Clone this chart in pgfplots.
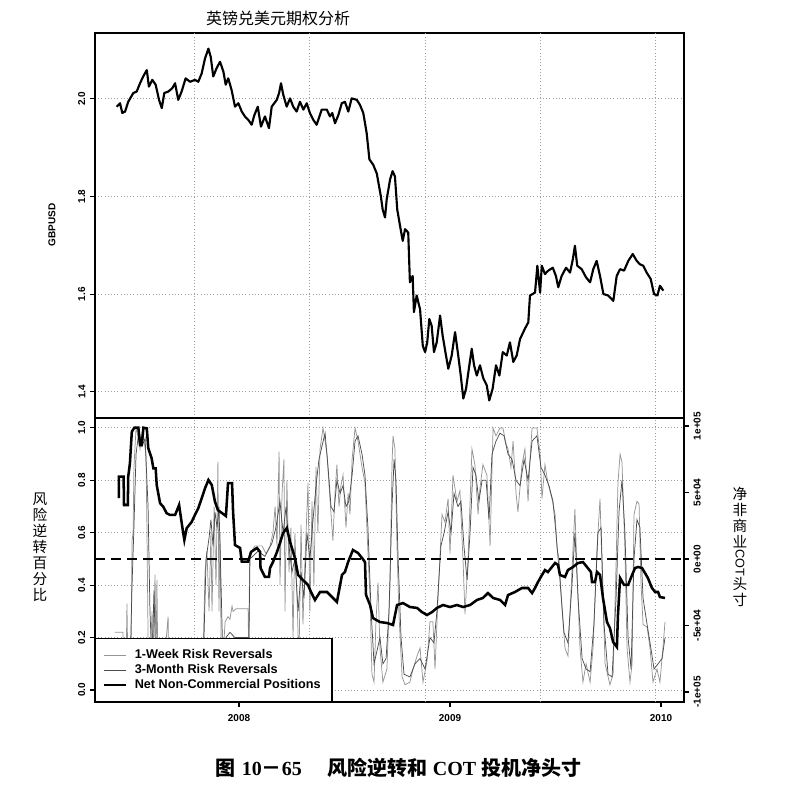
\documentclass[border=0pt]{standalone}
\usepackage{graphicx}
\usepackage{fontspec}
\setmainfont{Liberation Sans}
\newfontfamily\cjk{Noto Sans CJK SC}
\newfontfamily\serifb{Liberation Serif}
\usepackage{pgfplots}
\pgfplotsset{compat=1.18}
\definecolor{wk}{rgb}{0.58,0.58,0.58}
\definecolor{mo}{rgb}{0.30,0.30,0.30}
\definecolor{gridc}{rgb}{0.62,0.62,0.62}
\pgfplotsset{
  common/.style={
    anchor=south west, scale only axis, width=441.75pt,
    xmin=2007.3175, xmax=2010.109,
    axis line style={line width=1.1pt},
    tick align=outside, major tick length=3.75pt,
    tick style={black, line width=0.8pt},
    grid style={dotted, gridc, line width=0.7pt},
    /pgf/number format/assume math mode=true,
    ticklabel style={font=\bfseries\fontsize{7.5}{9}\selectfont},
  },
  vgrid/.style={
    extra x ticks={2007.791,2008.336,2008.882,2009.427,2009.972},
    extra x tick labels={},
    extra x tick style={xmajorgrids=true, major tick length=0pt},
  },
}
\begin{document}
\begin{tikzpicture}
\path[use as bounding box] (0pt,0pt) rectangle (605.25pt,591pt);
% ---------------- top panel ----------------
\begin{axis}[common, vgrid,
  at={(71.25pt,277.5pt)}, height=288.75pt,
  ymin=1.346, ymax=2.135,
  xtick=\empty,
  ytick={1.4,1.6,1.8,2.0}, ymajorgrids, ytick pos=left,
  yticklabel style={rotate=90, anchor=south,
    /pgf/number format/fixed, /pgf/number format/fixed zerofill,
    /pgf/number format/precision=1},
]
\addplot[black, line width=1.6pt, line join=round] coordinates {
(2007.420,1.984)(2007.436,1.991)(2007.447,1.971)(2007.460,1.974)(2007.475,1.994)
(2007.499,2.012)(2007.515,2.015)(2007.531,2.032)(2007.546,2.046)(2007.563,2.059)
(2007.573,2.025)(2007.589,2.039)(2007.605,2.029)(2007.621,1.998)(2007.634,1.981)
(2007.646,2.012)(2007.665,2.015)(2007.684,2.022)(2007.697,2.032)(2007.712,1.998)
(2007.728,2.015)(2007.747,2.042)(2007.768,2.035)(2007.791,2.039)(2007.807,2.035)
(2007.823,2.052)(2007.839,2.083)(2007.855,2.103)(2007.866,2.086)(2007.878,2.046)
(2007.894,2.063)(2007.910,2.076)(2007.926,2.056)(2007.937,2.029)(2007.949,2.042)
(2007.965,2.018)(2007.981,1.984)(2007.997,1.991)(2008.013,1.974)(2008.028,1.964)
(2008.044,1.957)(2008.060,1.947)(2008.073,1.967)(2008.089,1.984)(2008.104,1.943)
(2008.123,1.964)(2008.142,1.940)(2008.155,1.984)(2008.179,1.998)(2008.190,2.012)
(2008.199,2.032)(2008.210,2.008)(2008.226,1.984)(2008.242,2.001)(2008.257,1.984)
(2008.273,1.974)(2008.289,1.994)(2008.305,1.978)(2008.321,1.991)(2008.336,1.971)
(2008.352,1.957)(2008.368,1.947)(2008.392,1.978)(2008.416,1.978)(2008.431,1.964)
(2008.442,1.971)(2008.455,1.950)(2008.471,1.967)(2008.487,1.991)(2008.502,1.994)
(2008.518,1.974)(2008.534,2.001)(2008.558,1.998)(2008.573,1.988)(2008.589,1.971)
(2008.605,1.930)(2008.618,1.876)(2008.636,1.865)(2008.653,1.847)(2008.672,1.801)
(2008.681,1.773)(2008.692,1.757)(2008.700,1.794)(2008.716,1.835)(2008.728,1.852)
(2008.739,1.841)(2008.750,1.773)(2008.766,1.733)(2008.776,1.709)(2008.787,1.733)
(2008.802,1.726)(2008.810,1.624)(2008.823,1.637)(2008.829,1.563)(2008.842,1.597)
(2008.858,1.569)(2008.871,1.494)(2008.882,1.481)(2008.892,1.501)(2008.902,1.549)
(2008.913,1.535)(2008.924,1.481)(2008.937,1.501)(2008.953,1.556)(2008.965,1.515)
(2008.981,1.474)(2008.992,1.447)(2009.008,1.474)(2009.024,1.522)(2009.039,1.474)
(2009.051,1.433)(2009.063,1.386)(2009.076,1.406)(2009.087,1.440)(2009.103,1.488)
(2009.114,1.454)(2009.127,1.433)(2009.142,1.454)(2009.158,1.427)(2009.174,1.413)
(2009.186,1.382)(2009.202,1.406)(2009.218,1.454)(2009.234,1.433)(2009.250,1.481)
(2009.269,1.474)(2009.284,1.501)(2009.300,1.461)(2009.316,1.474)(2009.332,1.508)
(2009.355,1.529)(2009.371,1.542)(2009.379,1.597)(2009.403,1.603)(2009.414,1.658)
(2009.427,1.603)(2009.435,1.658)(2009.450,1.641)(2009.466,1.648)(2009.487,1.654)
(2009.502,1.637)(2009.513,1.614)(2009.529,1.637)(2009.550,1.654)(2009.569,1.644)
(2009.582,1.671)(2009.592,1.699)(2009.603,1.658)(2009.624,1.651)(2009.645,1.634)
(2009.664,1.624)(2009.679,1.651)(2009.695,1.668)(2009.711,1.637)(2009.727,1.600)
(2009.750,1.597)(2009.774,1.586)(2009.790,1.637)(2009.806,1.651)(2009.825,1.648)
(2009.845,1.668)(2009.866,1.682)(2009.885,1.668)(2009.900,1.661)(2009.916,1.658)
(2009.932,1.644)(2009.951,1.631)(2009.967,1.600)(2009.983,1.597)(2009.995,1.617)
(2010.011,1.607)
};
\end{axis}
% ---------------- bottom panel, left axis ----------------
\begin{axis}[common, vgrid,
  at={(71.25pt,64.5pt)}, height=213pt,
  ymin=-0.0458, ymax=1.038,
  xtick={2008,2009,2010}, xticklabels={2008,2009,2010}, xtick pos=bottom,
  xticklabel style={yshift=-2pt},
  ytick={0,0.2,0.4,0.6,0.8,1.0}, ymajorgrids, ytick pos=left,
  yticklabel style={rotate=90, anchor=south,
    /pgf/number format/fixed, /pgf/number format/fixed zerofill,
    /pgf/number format/precision=1},
]
\addplot[wk, line width=0.55pt] coordinates {
(2007.412,0.22)(2007.450,0.22)(2007.455,0.10)(2007.464,0.05)(2007.469,0.33)(2007.474,0.05)
(2007.488,0.10)(2007.493,0.57)(2007.498,0.60)(2007.502,0.85)(2007.512,1.00)(2007.521,0.97)
(2007.531,0.92)(2007.540,0.98)(2007.550,0.95)(2007.559,0.90)(2007.564,0.60)(2007.569,0.20)
(2007.578,0.10)(2007.588,0.30)(2007.592,0.10)(2007.602,0.44)(2007.607,0.10)(2007.611,0.42)
(2007.616,0.05)(2007.626,0.10)(2007.640,0.05)(2007.664,0.28)(2007.668,0.00)(2007.720,0.02)
(2007.791,0.05)(2007.815,0.04)(2007.829,0.10)(2007.839,0.45)(2007.848,0.53)(2007.858,0.30)
(2007.867,0.60)(2007.872,0.30)(2007.882,0.70)(2007.891,0.40)(2007.900,0.87)(2007.905,0.30)
(2007.910,0.60)(2007.915,0.20)(2007.919,0.05)(2007.934,0.26)(2007.948,0.28)(2007.957,0.27)
(2007.967,0.32)(2007.972,0.30)(2007.986,0.31)(2008.043,0.31)(2008.047,0.10)(2008.050,0.52)
(2008.076,0.55)(2008.109,0.55)(2008.128,0.52)(2008.147,0.55)(2008.161,0.60)(2008.171,0.70)
(2008.180,0.55)(2008.190,0.91)(2008.194,0.40)(2008.204,0.75)(2008.213,0.88)(2008.218,0.30)
(2008.227,0.80)(2008.237,0.45)(2008.246,0.62)(2008.256,0.20)(2008.265,0.60)(2008.275,0.35)
(2008.284,0.10)(2008.294,0.63)(2008.303,0.25)(2008.313,0.50)(2008.327,0.79)(2008.336,0.30)
(2008.346,0.72)(2008.355,0.40)(2008.365,0.85)(2008.374,0.60)(2008.384,0.92)(2008.393,0.97)
(2008.398,1.00)(2008.408,0.95)(2008.417,0.90)(2008.431,0.73)(2008.445,0.57)(2008.455,0.75)
(2008.464,0.86)(2008.474,0.70)(2008.483,0.78)(2008.493,0.82)(2008.507,0.62)(2008.517,0.75)
(2008.526,0.67)(2008.536,0.88)(2008.550,1.00)(2008.564,0.95)(2008.583,0.85)(2008.597,0.79)
(2008.607,0.60)(2008.621,0.35)(2008.630,0.06)(2008.640,0.03)(2008.649,0.26)(2008.659,0.41)
(2008.668,0.16)(2008.682,0.03)(2008.701,0.08)(2008.716,0.41)(2008.725,0.86)(2008.730,0.97)
(2008.739,0.92)(2008.749,0.54)(2008.758,0.29)(2008.773,0.05)(2008.787,0.02)(2008.810,0.03)
(2008.825,0.08)(2008.844,0.13)(2008.858,0.16)(2008.872,0.03)(2008.891,0.11)(2008.905,0.26)
(2008.919,0.26)(2008.929,0.08)(2008.943,0.35)(2008.962,0.67)(2008.976,0.64)(2008.991,0.73)
(2009.000,0.52)(2009.014,0.82)(2009.033,0.72)(2009.047,0.76)(2009.062,0.49)(2009.071,0.29)
(2009.085,0.49)(2009.104,0.92)(2009.118,0.86)(2009.133,0.67)(2009.142,0.77)(2009.156,0.86)
(2009.175,0.82)(2009.190,0.55)(2009.204,1.00)(2009.218,0.97)(2009.237,1.00)(2009.251,1.00)
(2009.265,0.94)(2009.275,0.92)(2009.289,0.85)(2009.299,0.95)(2009.313,0.75)(2009.322,0.68)
(2009.341,0.86)(2009.355,0.92)(2009.370,0.72)(2009.379,0.88)(2009.389,1.00)(2009.412,1.00)
(2009.427,0.90)(2009.436,0.73)(2009.450,0.86)(2009.464,0.79)(2009.483,0.73)(2009.498,0.67)
(2009.507,0.54)(2009.517,0.50)(2009.531,0.31)(2009.545,0.16)(2009.559,0.13)(2009.569,0.30)
(2009.583,0.54)(2009.592,0.69)(2009.602,0.45)(2009.616,0.16)(2009.630,0.03)(2009.645,0.10)
(2009.664,0.03)(2009.678,0.16)(2009.697,0.54)(2009.711,0.73)(2009.720,0.48)(2009.735,0.10)
(2009.758,0.02)(2009.773,0.06)(2009.787,0.48)(2009.796,0.79)(2009.806,0.90)(2009.815,0.87)
(2009.829,0.54)(2009.839,0.16)(2009.853,0.03)(2009.863,0.10)(2009.872,0.67)(2009.886,0.72)
(2009.896,0.71)(2009.905,0.41)(2009.915,0.25)(2009.934,0.24)(2009.948,0.16)(2009.962,0.03)
(2009.981,0.08)(2009.995,0.03)(2010.009,0.16)(2010.019,0.26)
};
\addplot[mo, line width=0.55pt] coordinates {
(2007.412,0.00)(2007.483,0.05)(2007.493,0.40)(2007.502,0.62)(2007.512,0.90)(2007.526,0.99)
(2007.540,0.93)(2007.555,0.96)(2007.569,0.70)(2007.578,0.30)(2007.588,0.10)(2007.597,0.38)
(2007.607,0.05)(2007.626,0.00)(2007.815,0.00)(2007.834,0.20)(2007.844,0.50)(2007.858,0.58)
(2007.867,0.65)(2007.877,0.55)(2007.886,0.68)(2007.896,0.62)(2007.905,0.70)(2007.915,0.40)
(2007.924,0.10)(2007.938,0.20)(2007.957,0.22)(2007.981,0.20)(2008.047,0.20)(2008.052,0.50)
(2008.090,0.53)(2008.123,0.51)(2008.156,0.56)(2008.175,0.62)(2008.194,0.72)(2008.209,0.60)
(2008.223,0.70)(2008.237,0.55)(2008.251,0.45)(2008.265,0.50)(2008.280,0.30)(2008.294,0.45)
(2008.308,0.35)(2008.322,0.60)(2008.336,0.50)(2008.351,0.65)(2008.365,0.78)(2008.379,0.88)
(2008.393,0.93)(2008.408,0.98)(2008.422,0.85)(2008.436,0.70)(2008.450,0.68)(2008.464,0.80)
(2008.479,0.75)(2008.493,0.78)(2008.507,0.70)(2008.521,0.72)(2008.536,0.82)(2008.550,0.95)
(2008.564,0.97)(2008.583,0.90)(2008.597,0.82)(2008.611,0.62)(2008.626,0.30)(2008.640,0.10)
(2008.654,0.15)(2008.668,0.20)(2008.682,0.10)(2008.697,0.12)(2008.711,0.30)(2008.725,0.70)
(2008.735,0.88)(2008.744,0.80)(2008.754,0.50)(2008.768,0.20)(2008.782,0.06)(2008.810,0.05)
(2008.834,0.10)(2008.858,0.12)(2008.882,0.08)(2008.905,0.20)(2008.924,0.18)(2008.938,0.30)
(2008.957,0.55)(2008.972,0.60)(2008.991,0.68)(2009.005,0.60)(2009.019,0.75)(2009.038,0.70)
(2009.052,0.72)(2009.066,0.55)(2009.081,0.42)(2009.095,0.60)(2009.109,0.85)(2009.123,0.82)
(2009.137,0.72)(2009.152,0.80)(2009.171,0.80)(2009.185,0.65)(2009.199,0.90)(2009.218,0.95)
(2009.237,0.98)(2009.256,0.97)(2009.275,0.90)(2009.294,0.88)(2009.313,0.80)(2009.332,0.78)
(2009.351,0.88)(2009.370,0.80)(2009.389,0.95)(2009.412,0.97)(2009.431,0.85)(2009.450,0.82)
(2009.469,0.78)(2009.488,0.72)(2009.502,0.60)(2009.521,0.42)(2009.540,0.22)(2009.559,0.18)
(2009.578,0.40)(2009.592,0.60)(2009.607,0.35)(2009.626,0.12)(2009.645,0.08)(2009.664,0.07)
(2009.682,0.25)(2009.701,0.60)(2009.716,0.62)(2009.730,0.25)(2009.749,0.06)(2009.768,0.05)
(2009.787,0.35)(2009.801,0.68)(2009.815,0.80)(2009.829,0.60)(2009.844,0.20)(2009.858,0.08)
(2009.872,0.50)(2009.886,0.65)(2009.900,0.62)(2009.915,0.35)(2009.934,0.25)(2009.948,0.18)
(2009.967,0.08)(2009.986,0.10)(2010.005,0.12)(2010.019,0.20)
};
\end{axis}
% ---------------- bottom panel, right axis ----------------
\begin{axis}[common,
  at={(71.25pt,64.5pt)}, height=213pt,
  ymin=-107500, ymax=106000,
  axis y line*=right, axis x line=none,
  scaled y ticks=false,
  ytick={-100000,-50000,0,50000,100000},
  yticklabels={-1e+05,-5e+04,0e+00,5e+04,1e+05},
  yticklabel style={rotate=90, anchor=north},
  legend cell align=left,
  legend image code/.code={\draw[#1] (0pt,0pt) -- (17pt,0pt);},
  legend style={at={(0,0)}, anchor=south west, draw=black, line width=0.9pt,
    fill=white, font=\bfseries\fontsize{9.5}{10.5}\selectfont,
    inner xsep=5pt, inner ysep=6.5pt, column sep=2pt, row sep=0pt,
    nodes={inner xsep=3.5pt, inner ysep=1.4pt, text height=7pt, text depth=1.5pt}},
]
\addlegendimage{wk, line width=0.55pt}
\addlegendentry{1-Week Risk Reversals}
\addlegendimage{mo, line width=0.55pt}
\addlegendentry{3-Month Risk Reversals}
\addplot[black, line width=1.6pt, dash pattern=on 7.5pt off 4.5pt, forget plot]
  coordinates {(2007.3175,0)(2010.109,0)};
\addplot[black, line width=1.9pt] coordinates {
(2007.425,46800)(2007.431,46800)(2007.431,61900)(2007.453,61900)(2007.455,40600)(2007.473,40600)
(2007.475,61900)(2007.483,72000)(2007.492,95700)(2007.504,98700)(2007.523,98700)(2007.531,85700)
(2007.539,85700)(2007.547,98700)(2007.563,98200)(2007.570,83200)(2007.586,75700)(2007.594,68200)
(2007.605,68200)(2007.610,55600)(2007.626,41900)(2007.641,39300)(2007.657,34400)(2007.673,33100)
(2007.697,33100)(2007.716,40600)(2007.731,24300)(2007.741,14300)(2007.752,23100)(2007.776,28000)
(2007.791,33100)(2007.807,38100)(2007.823,45600)(2007.839,53200)(2007.855,59400)(2007.871,55600)
(2007.886,43100)(2007.900,36800)(2007.938,32300)(2007.948,57100)(2007.967,57100)(2007.972,35300)
(2007.981,10500)(2008.005,8300)(2008.013,-2000)(2008.043,-2000)(2008.057,5300)(2008.085,8300)
(2008.100,5300)(2008.102,-6800)(2008.123,-13500)(2008.142,-13500)(2008.147,-6800)(2008.161,-2300)
(2008.180,5300)(2008.194,12000)(2008.209,19500)(2008.227,23300)(2008.242,12800)(2008.265,800)
(2008.280,-12000)(2008.303,-15800)(2008.327,-19500)(2008.341,-24800)(2008.360,-30800)(2008.384,-24800)
(2008.417,-24800)(2008.441,-28600)(2008.464,-32300)(2008.488,-12000)(2008.502,-9800)(2008.517,-2300)
(2008.540,6800)(2008.564,4500)(2008.583,800)(2008.597,-2300)(2008.602,-27100)(2008.621,-34600)
(2008.635,-44400)(2008.668,-47400)(2008.701,-48100)(2008.730,-49600)(2008.749,-34600)(2008.777,-33100)
(2008.810,-36100)(2008.844,-36800)(2008.867,-39900)(2008.891,-42100)(2008.915,-39900)(2008.938,-36800)
(2008.967,-34600)(2009.000,-36100)(2009.033,-34600)(2009.062,-36100)(2009.095,-34600)(2009.128,-30800)
(2009.156,-29300)(2009.180,-25600)(2009.204,-29300)(2009.237,-30800)(2009.261,-34600)(2009.275,-27100)
(2009.308,-24800)(2009.341,-21800)(2009.370,-21800)(2009.389,-25600)(2009.403,-21800)(2009.417,-17300)
(2009.436,-12000)(2009.450,-8300)(2009.464,-9800)(2009.483,-6000)(2009.498,-3000)(2009.512,-4500)
(2009.521,-12000)(2009.545,-13500)(2009.559,-8300)(2009.583,-6000)(2009.607,-3000)(2009.630,-2300)
(2009.649,-6000)(2009.668,-9800)(2009.673,-17300)(2009.687,-17300)(2009.697,-9800)(2009.711,-12000)
(2009.725,-29300)(2009.744,-47400)(2009.758,-51900)(2009.773,-62400)(2009.791,-66200)(2009.796,-42100)
(2009.806,-14300)(2009.825,-19500)(2009.844,-19500)(2009.863,-12000)(2009.877,-6800)(2009.891,-6000)
(2009.910,-6800)(2009.924,-10500)(2009.938,-14300)(2009.957,-21800)(2009.972,-24800)(2009.986,-24800)
(2009.995,-28600)(2010.019,-29300)
};
\addlegendentry{Net Non-Commercial Positions}
\end{axis}
% ---------------- texts ----------------
\node[font=\cjk\fontsize{12}{14}\selectfont] at (208.5pt,577.5pt) {英镑兑美元期权分析};
\node[rotate=90, font=\bfseries\fontsize{7.5}{9}\selectfont] at (39pt,422.25pt) {GBPUSD};
\node[align=center, font=\cjk\fontsize{11}{12}\selectfont] at (30pt,180.75pt)
  {风\\险\\逆\\转\\百\\分\\比};
\node[align=center, font=\cjk\fontsize{11}{12}\selectfont] at (555pt,180.75pt)
  {净\\非\\商\\业\\\rotatebox[origin=c]{-90}{\normalfont\fontsize{9.5}{11}\selectfont COT}\\头\\寸};
\node[font=\fontsize{15}{17}\selectfont] at (299pt,15pt)
  {{\cjk\bfseries 图}\hspace{0.3em}{\serifb\bfseries 10}{\cjk\bfseries －}{\serifb\bfseries 65}\hspace{1.3em}{\cjk\bfseries 风险逆转和}\hspace{0.25em}{\serifb\bfseries COT}\hspace{0.25em}{\cjk\bfseries 投机净头寸}};
\end{tikzpicture}
\end{document}
